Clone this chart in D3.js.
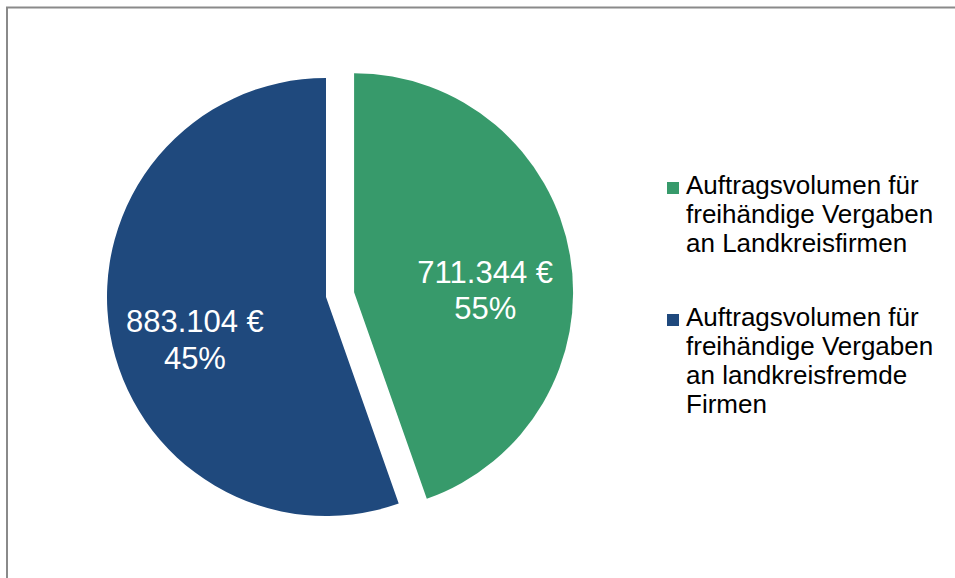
<!DOCTYPE html>
<html>
<head>
<meta charset="utf-8">
<script src="https://cdn.jsdelivr.net/npm/d3@7"></script>
<style>
    body { margin: 0; background: #ffffff; }
    svg { display: block; font-family: "Liberation Sans", Arial, sans-serif; }
</style>
</head>
<body>
<div id="chart"></div>
<script>
// values
const categories = [
    "Auftragsvolumen für freihändige Vergaben an Landkreisfirmen",
    "Auftragsvolumen für freihändige Vergaben an landkreisfremde Firmen"
];
const values = [711344, 883104];
const valueLabels = ["711.344 €", "883.104 €"];
const percentLabels = ["55%", "45%"];
const legendLines = [
    ["Auftragsvolumen für", "freihändige Vergaben", "an Landkreisfirmen"],
    ["Auftragsvolumen für", "freihändige Vergaben", "an landkreisfremde", "Firmen"]
];
const colors = ["#379A6B", "#1F497D"];
const explode = [28.5, 0];

const width = 955;
const height = 578;

function drawChart() {
    const svg = d3.select("#chart").append("svg")
        .attr("width", width)
        .attr("height", height);

    // outer frame (runs off the right and bottom edge)
    svg.append("rect")
        .attr("x", 7)
        .attr("y", 7.5)
        .attr("width", width + 20)
        .attr("height", height + 20)
        .attr("fill", "none")
        .attr("stroke", "#8a8a8a")
        .attr("stroke-width", 2);

    const center = { x: 326, y: 297 };
    const radius = 219;

    const pie = d3.pie().sort(null).startAngle(0).endAngle(2 * Math.PI);
    const arcs = pie(values);

    const arc = d3.arc().innerRadius(0).outerRadius(radius);
    const labelArc = d3.arc().innerRadius(133).outerRadius(133);

    const pieGroup = svg.append("g")
        .attr("transform", `translate(${center.x}, ${center.y})`);

    const slices = pieGroup.selectAll("g.slice")
        .data(arcs)
        .join("g")
        .attr("class", "slice")
        .attr("transform", (d, i) => {
            const mid = (d.startAngle + d.endAngle) / 2;
            const dx = Math.sin(mid) * explode[i];
            const dy = -Math.cos(mid) * explode[i];
            return `translate(${dx}, ${dy})`;
        });

    slices.append("path")
        .attr("d", arc)
        .attr("fill", (d, i) => colors[i]);

    slices.each(function(d, i) {
        const [lx, ly] = labelArc.centroid(d);
        const label = d3.select(this).append("text")
            .attr("x", lx)
            .attr("y", ly + 13)
            .attr("text-anchor", "middle")
            .attr("fill", "#ffffff")
            .style("font-size", "31px");

        label.append("tspan")
            .attr("x", lx)
            .text(valueLabels[i]);

        label.append("tspan")
            .attr("x", lx)
            .attr("dy", 36.5)
            .text(percentLabels[i]);
    });

    // legend
    const legend = svg.append("g")
        .attr("transform", "translate(667, 0)");

    const itemTop = [194, 326];
    const lineHeight = 29;

    categories.forEach((cat, i) => {
        const item = legend.append("g")
            .attr("transform", `translate(0, ${itemTop[i]})`);

        item.append("rect")
            .attr("x", 0)
            .attr("y", -12)
            .attr("width", 12)
            .attr("height", 12)
            .attr("fill", colors[i]);

        const text = item.append("text")
            .attr("x", 19)
            .attr("y", 0)
            .attr("fill", "#000000")
            .style("font-size", "26px");

        legendLines[i].forEach((line, j) => {
            text.append("tspan")
                .attr("x", 19)
                .attr("dy", j === 0 ? 0 : lineHeight)
                .text(line);
        });
    });
}

drawChart();
</script>
</body>
</html>
